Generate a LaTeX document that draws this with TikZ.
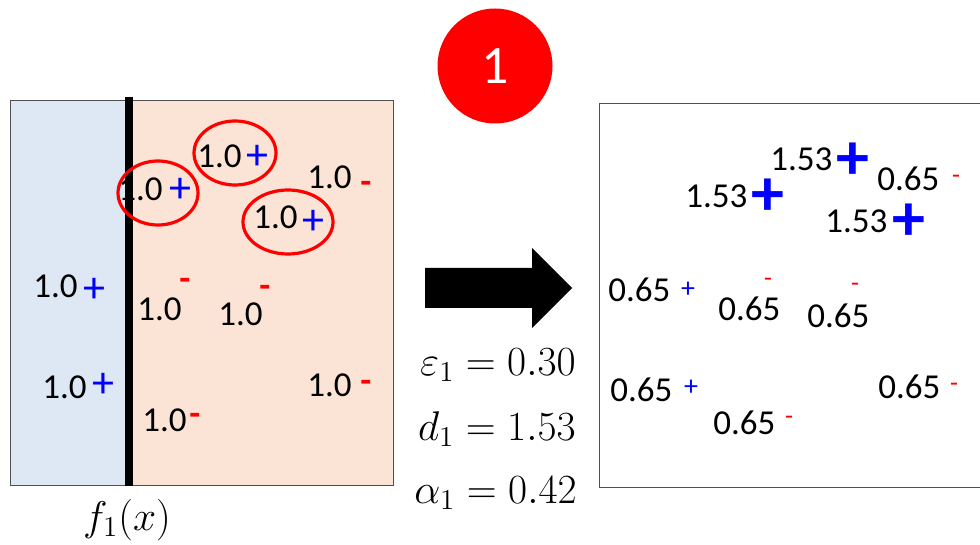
\documentclass[tikz,border=0pt]{standalone}
\usepackage{amsmath}
\usepackage{fontspec}
\setmainfont{Carlito}

\definecolor{leftblue}{RGB}{221,232,244}
\definecolor{rightorange}{RGB}{251,228,214}
\definecolor{boxgray}{RGB}{80,80,80}

\tikzset{
  val/.style={inner sep=0pt,font=\fontsize{17.5}{21}\selectfont},
  pl/.style={inner sep=0pt,text=blue,text height=12.3pt,text depth=-2pt,
    font=\fontsize{22}{24}\selectfont},
  mi/.style={inner sep=0pt,text=red,text height=5.6pt,text depth=-4.2pt,
    font=\fontsize{18}{21}\selectfont\bfseries},
  bigpl/.style={pl,text height=18.5pt,text depth=-3pt,
    font=\fontsize{33}{35}\selectfont\bfseries},
  smpl/.style={pl,text height=7.8pt,text depth=-1.3pt,
    font=\fontsize{14}{16}\selectfont},
  smmi/.style={mi,text height=4pt,text depth=-3pt,
    font=\fontsize{13}{15}\selectfont},
  hit/.style={draw=red,line width=1.6pt},
  eqn/.style={inner sep=0pt,anchor=base east,font=\fontsize{21}{24}\selectfont}
}

\begin{document}
\begin{tikzpicture}[x=0.5pt,y=-0.5pt]
  \useasboundingbox (0,0) rectangle (980,545);
  \clip (0,0) rectangle (980,545);

  % weak learner f_1 splits the plane
  \fill[leftblue] (10,100) rectangle (129,485);
  \fill[rightorange] (129,100) rectangle (393,485);
  \draw[boxgray] (10,100) rectangle (393,485);

  \foreach \n/\px/\py/\sx/\sy/\c/\s in {
      1/118/201/180/190/+/pl, 2/197/168/257/157/+/pl, 3/253/229/313/222/+/pl,
      4/307/189/366/188/-/mi, 5/33/298/94/290/+/pl, 6/137/321/185/285/-/mi,
      7/218/326/265/292/-/mi, 8/42/398/103/385/+/pl, 9/307/396/366/387/-/mi,
      10/142/431/195/420/-/mi}{
    \node[val,anchor=base west] (a\n) at (\px,\py) {1.0};
    \node[\s] (as\n) at (\sx,\sy) {\c};
  }
  \draw[line width=4pt] (129,97) -- (129,486);

  % misclassified points
  \draw[hit] (158,193) ellipse [x radius=20pt, y radius=16pt];
  \draw[hit] (235,153) ellipse [x radius=20.5pt, y radius=16pt];
  \draw[hit] (288,222) ellipse [x radius=22.5pt, y radius=16pt];

  \node[inner sep=0pt,anchor=base] (f1) at (127,530)
    {\fontsize{21}{24}\selectfont$f_1(x)$};

  % round number
  \node[circle,fill=red,inner sep=0pt,minimum size=57.5pt,text=white,
    font=\fontsize{27}{30}\selectfont] (badge) at (495,66) {1};

  % update arrow
  \fill (425,268) -- (532,268) -- (532,248) -- (572,288) -- (532,328)
    -- (532,308) -- (425,308) -- cycle;
  \node[eqn] (eps) at (576,375) {$\varepsilon_1 = 0.30$};
  \node[eqn] (dd) at (576,440) {$d_1 = 1.53$};
  \node[eqn] (alp) at (577,503) {$\alpha_1 = 0.42$};

  % reweighted samples
  \draw[boxgray] (990,103) -- (599,103) -- (599,487) -- (990,487);
  \foreach \n/\v/\px/\py/\sx/\sy/\c/\s in {
      1/1.53/770/171/853/161/+/bigpl, 2/0.65/877/191/956/180/-/smmi,
      3/1.53/685/208/768/197/+/bigpl, 4/1.53/825/233/909/222/+/bigpl,
      5/0.65/608/301/688/290/+/smpl, 6/0.65/718/321/768/282/-/smmi,
      7/0.65/807/328/855/288/-/smmi, 8/0.65/610/401/691/388/+/smpl,
      9/0.65/878/398/954/387/-/smmi, 10/0.65/713/434/789/420/-/smmi}{
    \node[val,anchor=base west] (b\n) at (\px,\py) {\v};
    \node[\s] (bs\n) at (\sx,\sy) {\c};
  }
\end{tikzpicture}
\end{document}
